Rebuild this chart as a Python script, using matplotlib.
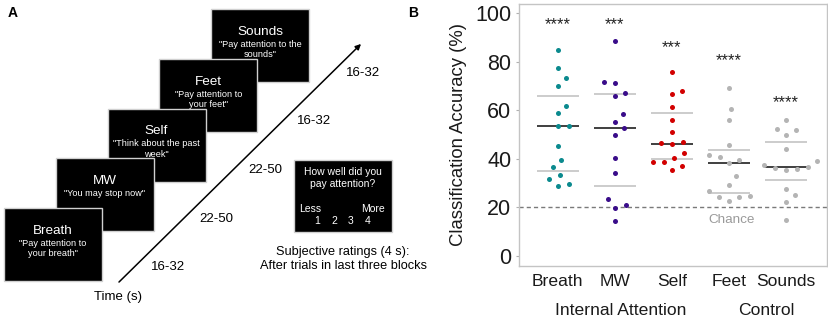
import numpy as np
import matplotlib
matplotlib.use("Agg")
import matplotlib.pyplot as plt
from matplotlib.patches import Rectangle

plt.rcParams['font.family'] = ['Liberation Sans', 'DejaVu Sans']

# ---- panel A content
conditions = ["Breath", "MW", "Self", "Feet", "Sounds"]
instructions = ['"Pay attention to\nyour breath"', '"You may stop now"',
                '"Think about the past\nweek"', '"Pay attention to\nyour feet"',
                '"Pay attention to the\nsounds"']
durations = ["16-32", "22-50", "22-50", "16-32", "16-32"]

# ---- panel B data (classification accuracy, %)
breath = [84.7, 77.2, 73.1, 70.0, 61.7, 58.8, 53.6, 53.6, 45.1, 39.6, 36.6, 33.3, 31.5, 28.9, 29.6]
mw = [88.6, 71.3, 71.7, 66.0, 67.2, 58.3, 55.3, 52.5, 49.8, 40.3, 34.0, 23.3, 19.9, 20.9, 14.4]
self_ = [75.8, 66.7, 68.0, 61.4, 56.0, 50.9, 46.9, 46.0, 46.4, 42.3, 40.5, 38.8, 38.5, 36.9, 35.4]
feet = [69.0, 60.4, 56.0, 45.5, 41.4, 40.9, 39.4, 38.1, 32.9, 29.3, 26.7, 24.4, 22.8, 24.4, 24.7]
sounds = [56.0, 52.1, 51.9, 49.7, 44.0, 39.1, 37.3, 36.4, 35.4, 35.7, 36.8, 27.6, 25.1, 22.4, 14.9]
groups = [breath, mw, self_, feet, sounds]

medians = [53.6, 52.5, 46.2, 38.3, 36.8]
upper = [66.0, 66.7, 59.0, 43.6, 46.9]
lower = [35.0, 28.8, 39.8, 25.8, 31.4]
stars = ["****", "***", "***", "****", "****"]
star_y = [96.4, 96.4, 86.8, 81.3, 64.2]
chance = 20
colors = ['#0b8a8e', '#3a0d8a', '#d20000', '#b4b4b4', '#b4b4b4']

fig = plt.figure(figsize=(8.29, 3.18), dpi=100)

# ================= panel A (drawn in pixel units)
axa = fig.add_axes([0, 0, 415 / 829, 1])
axa.set_xlim(0, 415)
axa.set_ylim(318, 0)
axa.axis('off')

bw, bh = 98, 73
x0, y0 = 4, 208
sx, sy = 51.75, -49.75
for i in range(len(conditions) - 1, -1, -1):
    bx, by = x0 + i * sx, y0 + i * sy
    z = 10 - i
    axa.add_patch(Rectangle((bx, by), bw, bh, facecolor='black',
                            edgecolor='#d0d0d0', lw=1, zorder=z))
    axa.text(bx + bw / 2, by + 23, conditions[i], color='white', fontsize=9.7,
             ha='center', va='center', zorder=z)
    axa.text(bx + bw / 2, by + 31, instructions[i], color='white', fontsize=6.6,
             ha='center', va='top', linespacing=1.15, zorder=z)

axa.annotate("", xy=(363, 42), xytext=(117, 284),
             arrowprops=dict(arrowstyle='-|>', lw=1.1, color='black', mutation_scale=8))
for i, d in enumerate(durations):
    axa.text(168 + i * 48.75, 267 - i * 48.5, d, fontsize=9.5, ha='center', va='center')
axa.text(118, 297, "Time (s)", fontsize=9.5, ha='center', va='center')

# ratings screen
axa.add_patch(Rectangle((294, 160), 98, 72, facecolor='black', edgecolor='#d0d0d0', lw=1))
axa.text(343, 178, "How well did you\npay attention?", color='white', fontsize=7.5,
         ha='center', va='center', linespacing=1.25)
axa.text(310, 209, "Less", color='white', fontsize=7.5, ha='center', va='center')
axa.text(373, 209, "More", color='white', fontsize=7.5, ha='center', va='center')
for k in range(4):
    axa.text(317 + k * 17, 221, str(k + 1), color='white', fontsize=7.5, ha='center', va='center')
axa.text(343, 259, "Subjective ratings (4 s):\nAfter trials in last three blocks",
         fontsize=9.2, ha='center', va='center', linespacing=1.2)

fig.text(13 / 829, 1 - 13 / 318, "A", fontsize=10, fontweight='bold', ha='center', va='center')
fig.text(413 / 829, 1 - 13 / 318, "B", fontsize=10, fontweight='bold', ha='center', va='center')

# ================= panel B
ax = fig.add_axes([519 / 829, 1 - 266 / 318, 308 / 829, 262 / 318])
ax.set_xlim(-0.68, 4.72)
ax.set_ylim(-4.1, 103.7)

# swarm offsets computed in pixel space
p0 = ax.transData.transform((0, 0))
p1 = ax.transData.transform((1, 1))
xpx, ypx = p1[0] - p0[0], p1[1] - p0[1]


def swarm(vals, d=11.0):
    v = np.asarray(vals, dtype=float)
    placed = []
    offs = np.zeros(len(v))
    for i in np.argsort(v, kind='stable'):
        y = v[i] * ypx
        cands = [0.0]
        for px, py in placed:
            dy = abs(py - y)
            if dy < d:
                dx = np.sqrt(d * d - dy * dy)
                cands += [px + dx, px - dx]
        cands.sort(key=lambda c: (abs(c), -c))
        for c in cands:
            if all((c - px) ** 2 + (y - py) ** 2 >= d * d - 1e-6 for px, py in placed):
                break
        placed.append((c, y))
        offs[i] = c
    return offs / xpx


ax.axhline(chance, color='#7a7a7a', lw=1, ls=(0, (3, 2.2)), zorder=1)
ax.text(3.05, 14.8, "Chance", color='#9a9a9a', fontsize=9.7, ha='center', va='center')

for i, vals in enumerate(groups):
    ax.hlines([upper[i], lower[i]], i - 0.366, i + 0.366, color='#c8c8c8', lw=1.3, zorder=2)
    ax.hlines(medians[i], i - 0.366, i + 0.366, color='#303030', lw=1.3, zorder=2)
    ax.scatter(i + swarm(vals), vals, s=13, color=colors[i], lw=0, zorder=3)
    ax.text(i, star_y[i] - 1.1, stars[i], fontsize=12, ha='center', va='center', color='#222222')

for sp in ax.spines.values():
    sp.set_color('#c4c4c4')
    sp.set_linewidth(1)
ax.set_yticks([0, 20, 40, 60, 80, 100])
ax.tick_params(axis='y', length=2.5, width=0.8, color='#b0b0b0', labelsize=15.5,
               labelcolor='#1a1a1a', pad=3)
ax.set_xticks(range(len(conditions)))
ax.set_xticklabels(conditions)
ax.tick_params(axis='x', length=0, labelsize=12.6, labelcolor='#1a1a1a', pad=6)
ax.set_ylabel("Classification Accuracy (%)", fontsize=13.3, color='#1a1a1a', labelpad=6)
ax.text(1.1, -0.168, "Internal Attention", transform=ax.get_xaxis_transform(),
        fontsize=12.6, ha='center', va='center', color='#1a1a1a')
ax.text(3.65, -0.168, "Control", transform=ax.get_xaxis_transform(),
        fontsize=12.6, ha='center', va='center', color='#1a1a1a')

fig.savefig("out.png", dpi=100)
